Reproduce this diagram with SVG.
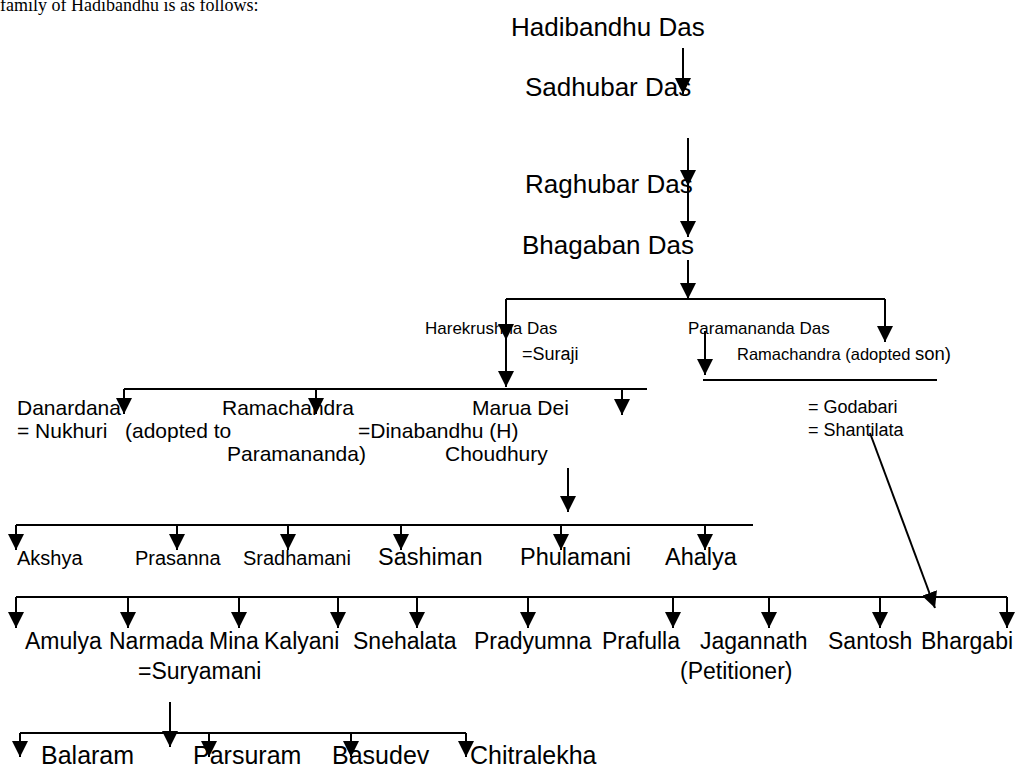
<svg xmlns="http://www.w3.org/2000/svg" width="1017" height="770" viewBox="0 0 1017 770">
<style>
text{font-family:"Liberation Sans",Arial,sans-serif;fill:#000}
.serif{font-family:"Liberation Serif","Times New Roman",serif;font-size:18px}
.t26{font-size:26px}
.t21{font-size:21px}
.t20{font-size:20px}
.t18{font-size:18px}
.t17{font-size:17px}
.t23{font-size:23px}
.t235{font-size:23.5px}
.t25{font-size:25px}
.ln{stroke:#000;stroke-width:2;fill:none}
.ar{stroke:#000;stroke-width:2;fill:none;marker-end:url(#ah)}
</style>
<defs>
<marker id="ah" markerUnits="userSpaceOnUse" markerWidth="16" markerHeight="16" viewBox="0 0 16 16" refX="16" refY="8" orient="auto">
<path d="M0,0 L16,8 L0,16 z" fill="#000"/>
</marker>
</defs>
<rect width="1017" height="770" fill="#fff"/>
<text class="serif" x="0" y="11">family of Hadibandhu is as follows:</text>
<g id="connectors">
<line class="ar" x1="683" y1="48" x2="683" y2="94"/>
<line class="ar" x1="688" y1="138" x2="688" y2="186"/>
<line class="ar" x1="688" y1="186" x2="688" y2="237"/>
<line class="ar" x1="688" y1="260" x2="688" y2="299"/>
<line class="ln" x1="506" y1="299" x2="885" y2="299"/>
<line class="ar" x1="885" y1="299" x2="885" y2="342"/>
<line class="ar" x1="506" y1="299" x2="506" y2="340"/>
<line class="ar" x1="506" y1="340" x2="506" y2="387"/>
<line class="ar" x1="705" y1="331" x2="705" y2="375"/>
<line class="ln" x1="703" y1="380" x2="937" y2="380"/>
<line class="ln" x1="124" y1="389" x2="647" y2="389"/>
<line class="ar" x1="124" y1="389" x2="124" y2="414"/>
<line class="ar" x1="316" y1="389" x2="316" y2="414"/>
<line class="ar" x1="622" y1="389" x2="622" y2="415"/>
<line class="ar" x1="568" y1="468" x2="568" y2="512"/>
<line class="ln" x1="16" y1="525" x2="753" y2="525"/>
<line class="ar" x1="16" y1="525" x2="16" y2="550"/>
<line class="ar" x1="177" y1="525" x2="177" y2="550"/>
<line class="ar" x1="288" y1="525" x2="288" y2="550"/>
<line class="ar" x1="401" y1="525" x2="401" y2="550"/>
<line class="ar" x1="561" y1="525" x2="561" y2="550"/>
<line class="ar" x1="705" y1="525" x2="705" y2="550"/>
<line class="ln" x1="16" y1="597" x2="1007" y2="597"/>
<line class="ar" x1="16" y1="597" x2="16" y2="628"/>
<line class="ar" x1="128" y1="597" x2="128" y2="628"/>
<line class="ar" x1="239" y1="597" x2="239" y2="628"/>
<line class="ar" x1="338" y1="597" x2="338" y2="628"/>
<line class="ar" x1="417" y1="597" x2="417" y2="628"/>
<line class="ar" x1="528" y1="597" x2="528" y2="628"/>
<line class="ar" x1="673" y1="597" x2="673" y2="628"/>
<line class="ar" x1="769" y1="597" x2="769" y2="628"/>
<line class="ar" x1="880" y1="597" x2="880" y2="628"/>
<line class="ar" x1="1007" y1="597" x2="1007" y2="628"/>
<line class="ar" x1="870" y1="433" x2="935" y2="608"/>
<line class="ar" x1="170" y1="702" x2="170" y2="747"/>
<line class="ln" x1="20" y1="733" x2="466" y2="733"/>
<line class="ar" x1="20" y1="733" x2="20" y2="757"/>
<line class="ar" x1="209" y1="733" x2="209" y2="757"/>
<line class="ar" x1="351" y1="733" x2="351" y2="757"/>
<line class="ar" x1="466" y1="733" x2="466" y2="757"/>
</g>
<g id="hadibandhu"><text class="t26" x="511" y="36">Hadibandhu Das</text></g>
<g id="sadhubar"><text class="t26" x="525" y="96">Sadhubar Das</text></g>
<g id="raghubar"><text class="t26" x="525" y="193">Raghubar Das</text></g>
<g id="bhagaban"><text class="t26" x="522" y="254">Bhagaban Das</text></g>
<g id="harekrushna"><text class="t17" x="425" y="334">Harekrushna Das</text><text class="t18" x="522" y="360">=Suraji</text></g>
<g id="paramananda"><text class="t17" x="688" y="334">Paramananda Das</text></g>
<g id="ramachandra-adopted"><text style="font-size:16.5px" x="737" y="360">Ramachandra (adopted <tspan style="font-size:18.5px">son)</tspan></text><text class="t18" x="808" y="413">= Godabari</text><text class="t18" x="808" y="436">= Shantilata</text></g>
<g id="danardana"><text class="t21" x="17" y="415">Danardana</text><text class="t21" x="17" y="438">= Nukhuri</text></g>
<g id="ramachandra"><text class="t21" x="222" y="415">Ramachandra</text><text class="t21" x="125" y="438">(adopted to</text><text class="t21" x="227" y="461">Paramananda)</text></g>
<g id="marua"><text class="t21" x="472" y="415">Marua Dei</text><text class="t21" x="358" y="438">=Dinabandhu (H)</text><text class="t21" x="445" y="461">Choudhury</text></g>
<g id="akshya"><text class="t20" x="17" y="565">Akshya</text></g>
<g id="prasanna"><text class="t20" x="135" y="565">Prasanna</text></g>
<g id="sradhamani"><text class="t20" x="243" y="565">Sradhamani</text></g>
<g id="sashiman"><text class="t235" x="378" y="565">Sashiman</text></g>
<g id="phulamani"><text class="t235" x="520" y="565">Phulamani</text></g>
<g id="ahalya"><text class="t235" x="665" y="565">Ahalya</text></g>
<g id="amulya"><text class="t23" x="25" y="649">Amulya</text></g>
<g id="narmada"><text class="t23" x="109" y="649">Narmada</text><text class="t23" x="138" y="679">=Suryamani</text></g>
<g id="mina"><text class="t23" x="209" y="649">Mina</text></g>
<g id="kalyani"><text class="t23" x="264" y="649">Kalyani</text></g>
<g id="snehalata"><text class="t23" x="353" y="649">Snehalata</text></g>
<g id="pradyumna"><text class="t23" x="474" y="649">Pradyumna</text></g>
<g id="prafulla"><text class="t23" x="602" y="649">Prafulla</text></g>
<g id="jagannath"><text class="t23" x="700" y="649">Jagannath</text><text class="t23" x="680" y="679">(Petitioner)</text></g>
<g id="santosh"><text class="t23" x="828" y="649">Santosh</text></g>
<g id="bhargabi"><text class="t23" x="921" y="649">Bhargabi</text></g>
<g id="balaram"><text class="t25" x="41" y="764">Balaram</text></g>
<g id="parsuram"><text class="t25" x="193" y="764">Parsuram</text></g>
<g id="basudev"><text class="t25" x="332" y="764">Basudev</text></g>
<g id="chitralekha"><text class="t25" x="470" y="764">Chitralekha</text></g>
</svg>
